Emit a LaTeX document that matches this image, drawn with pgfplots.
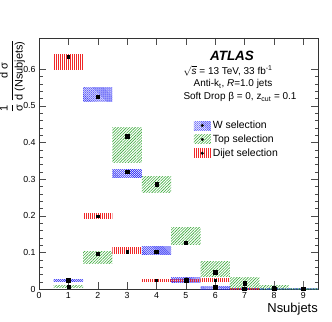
\documentclass[border=0pt]{standalone}
\usepackage{fontspec}
\setmainfont{Liberation Sans}
\usepackage{amsmath}
\usepackage{pgfplots}
\pgfplotsset{compat=1.18}
\usetikzlibrary{patterns.meta,calc}

\definecolor{wblue}{RGB}{40,40,245}
\definecolor{tgreen}{RGB}{60,170,60}
\definecolor{dred}{RGB}{240,40,40}

\tikzset{
  wsys/.style={draw=none, pattern={Lines[angle=-45,distance=1.4bp,line width=0.6bp]}, pattern color=wblue},
  tsys/.style={draw=none, pattern={Lines[angle=45,distance=2bp,line width=0.6bp]}, pattern color=tgreen},
  dsys/.style={draw=none, pattern={Lines[angle=90,distance=2bp,line width=0.8bp]}, pattern color=dred},
}

% systematic box: style, x left, x right, low, high
\newcommand{\sysbox}[5]{\addplot[#1, forget plot] coordinates {(#2,#4) (#3,#4) (#3,#5) (#2,#5)} -- cycle;}

\pgfplotstableread{
x y e
1 0.024 0.000
2 0.525 0.000
3 0.320 0.000
4 0.102 0.000
5 0.024 0.008
6 0.004 0.010
7 0.001 0.008
8 0.001 0.020
9 0.001 0.020
}\wsel

\pgfplotstableread{
x y
1 0.006
2 0.096
3 0.417
4 0.286
5 0.126
6 0.046
7 0.016
8 0.003
9 0.001
}\tsel

\pgfplotstableread{
x y
1 0.634
2 0.198
3 0.102
4 0.023
5 0.023
6 0.024
7 0.001
8 0.001
9 0.001
}\dsel

\begin{document}
\begin{tikzpicture}
\begin{axis}[
    name=ax,
    scale only axis,
    width=279bp, height=251bp,
    xmin=0, xmax=9.5,
    ymin=0, ymax=0.685,
    xtick={0,1,...,9},
    ytick={0,0.1,...,0.6},
    minor y tick num=4,
    tick align=inside,
    major tick length=7bp,
    minor tick length=3.5bp,
    axis line style={black!80},
    tick style={black!70},
    ticklabel style={font=\fontsize{8.8}{9}\selectfont},
    /pgf/number format/assume math mode=true,
    yticklabel style={/pgf/number format/fixed},
    legend style={at={(0.554,0.678)}, anchor=north west, draw=none, fill=none,
                  inner sep=0pt, row sep=0.8bp, font=\fontsize{10.5}{11}\selectfont},
    legend cell align=left,
]
\addlegendimage{legend image code/.code={\fill[wsys] (-4.5bp,-4.5bp) rectangle (12.5bp,4.5bp); \fill[black] (4bp,0bp) circle (1.3bp);}}
\addlegendentry{W selection}
\addlegendimage{legend image code/.code={\fill[tsys] (-4.5bp,-4.5bp) rectangle (12.5bp,4.5bp); \fill[black] (4bp,0bp) circle (1.3bp);}}
\addlegendentry{Top selection}
\addlegendimage{legend image code/.code={\fill[dsys] (-4.5bp,-4.5bp) rectangle (12.5bp,4.5bp); \fill[black] (4bp,0bp) circle (1.3bp);}}
\addlegendentry{Dijet selection}

% W selection systematics
\sysbox{wsys}{0.5}{1.5}{0.021}{0.027}
\sysbox{wsys}{1.5}{2.5}{0.513}{0.550}
\sysbox{wsys}{2.5}{3.5}{0.305}{0.327}
\sysbox{wsys}{3.5}{4.5}{0.093}{0.117}
\sysbox{wsys}{4.5}{5.5}{0.017}{0.032}
\sysbox{wsys}{5.5}{6.5}{0.000}{0.006}
\sysbox{wsys}{6.5}{7.5}{0.000}{0.0015}
\sysbox{wsys}{7.5}{8.5}{0.000}{0.001}
\sysbox{wsys}{8.5}{9.5}{0.000}{0.001}

% Top selection systematics
\sysbox{tsys}{0.5}{1.5}{0.003}{0.009}
\sysbox{tsys}{1.5}{2.5}{0.069}{0.102}
\sysbox{tsys}{2.5}{3.5}{0.345}{0.442}
\sysbox{tsys}{3.5}{4.5}{0.264}{0.306}
\sysbox{tsys}{4.5}{5.5}{0.121}{0.168}
\sysbox{tsys}{5.5}{6.5}{0.033}{0.076}
\sysbox{tsys}{6.5}{7.5}{0.002}{0.031}
\sysbox{tsys}{7.5}{8.5}{0.000}{0.009}
\sysbox{tsys}{8.5}{9.5}{0.000}{0.002}

% Dijet selection systematics
\sysbox{dsys}{0.5}{1.5}{0.600}{0.641}
\sysbox{dsys}{1.5}{2.5}{0.193}{0.205}
\sysbox{dsys}{2.5}{3.5}{0.096}{0.114}
\sysbox{dsys}{3.5}{4.5}{0.020}{0.026}
\sysbox{dsys}{4.5}{5.5}{0.020}{0.026}
\sysbox{dsys}{5.5}{6.5}{0.020}{0.028}
\sysbox{dsys}{6.5}{7.5}{0.000}{0.0008}

% central values
\addplot[only marks, mark=square*, mark size=1.9bp, black, forget plot,
    error bars/.cd, y dir=both, y explicit, error bar style={black!60, line width=0.6bp}, error mark=none]
    table[x=x, y=y, y error=e] {\wsel};
\addplot[only marks, mark=square*, mark size=1.6bp, black, forget plot] table[x=x, y=y] {\tsel};
\addplot[only marks, mark=square*, mark size=1.1bp, black, forget plot] table[x=x, y=y] {\dsel};
\end{axis}

\node[anchor=south east, rotate=90, inner sep=0pt, font=\fontsize{11}{12}\selectfont]
  at ([shift={(-14bp,-2bp)}]ax.north west)
  {$\dfrac{\text{1}}{\text{σ}}\,\dfrac{\text{d σ}}{\text{d (Nsubjets)}}$};
\node[anchor=north east, inner sep=0pt, font=\fontsize{13}{14}\selectfont]
  at ([shift={(0bp,-14bp)}]ax.south east) {Nsubjets};

\node[font=\fontsize{13.5}{14}\selectfont\bfseries\itshape] at ([shift={(193bp,-18bp)}]ax.north west) {ATLAS};
\node[font=\fontsize{10}{11}\selectfont] at ([shift={(189bp,-33bp)}]ax.north west)
  {$\sqrt{\text{\textit{s}}}$ = 13 TeV, 33 fb\textsuperscript{-1}};
\node[font=\fontsize{10}{11}\selectfont] at ([shift={(194bp,-46bp)}]ax.north west)
  {Anti-k\textsubscript{t}, \textit{R}=1.0 jets};
\node[font=\fontsize{10}{11}\selectfont] at ([shift={(201bp,-59bp)}]ax.north west)
  {Soft Drop β = 0, z\textsubscript{cut} = 0.1};

\pgfresetboundingbox
\path ([shift={(-39bp,-33bp)}]ax.south west) rectangle ([shift={(14bp,38bp)}]ax.north east);
\end{tikzpicture}
\end{document}
